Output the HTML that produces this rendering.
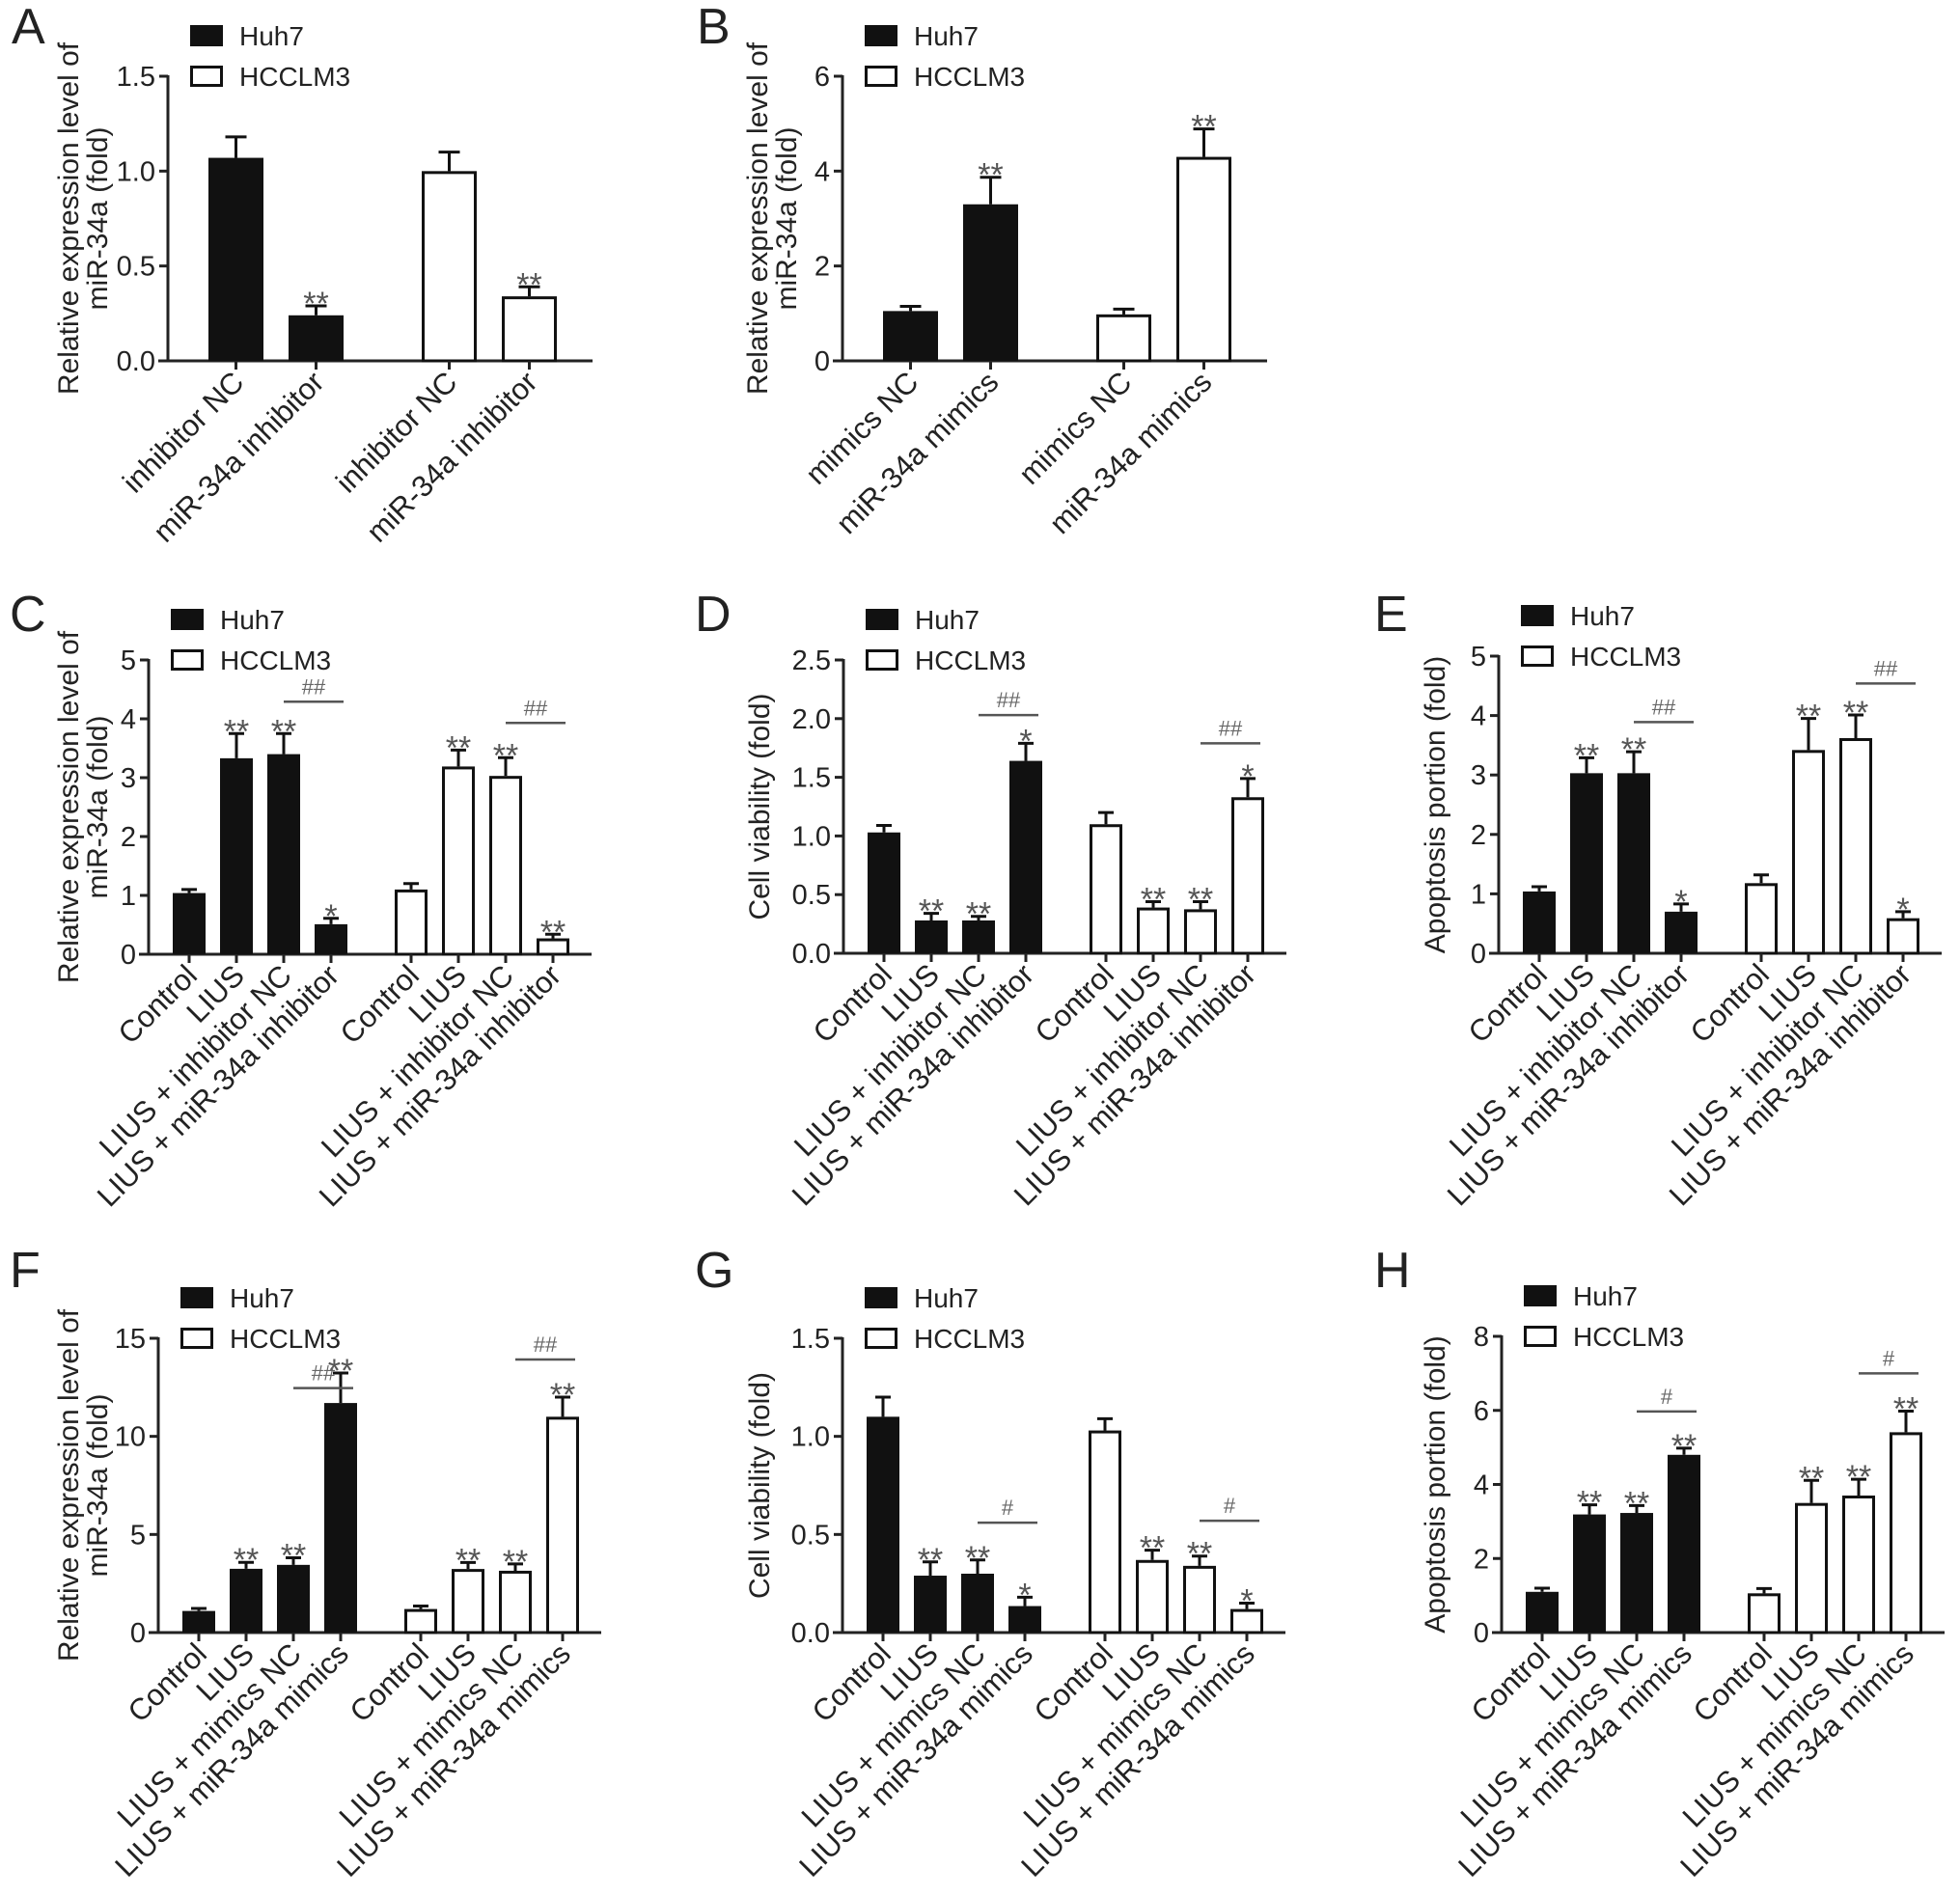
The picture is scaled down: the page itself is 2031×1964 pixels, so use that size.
<!DOCTYPE html>
<html><head><meta charset="utf-8">
<style>
html,body{margin:0;padding:0;background:#fff;}
svg{display:block;font-family:"Liberation Sans",Arial,sans-serif;}
</style></head>
<body>
<svg id="fig" width="2031" height="1964" viewBox="0 0 2031 1964" xmlns="http://www.w3.org/2000/svg"></svg>
<script>
// ---- Data ----
const catsA = ["inhibitor NC","miR-34a inhibitor","inhibitor NC","miR-34a inhibitor"];
const valsA = [1.07, 0.24, 1.00, 0.34];
const errsA = [1.18, 0.29, 1.10, 0.39];
const starsA = ["", "**", "", "**"];
const ticksA = ["0.0","0.5","1.0","1.5"];

const catsB = ["mimics NC","miR-34a mimics","mimics NC","miR-34a mimics"];
const valsB = [1.05, 3.30, 0.98, 4.30];
const errsB = [1.15, 3.87, 1.09, 4.89];
const starsB = ["", "**", "", "**"];
const ticksB = ["0","2","4","6"];

const catsInh = ["Control","LIUS","LIUS + inhibitor NC","LIUS + miR-34a inhibitor","Control","LIUS","LIUS + inhibitor NC","LIUS + miR-34a inhibitor"];
const catsMim = ["Control","LIUS","LIUS + mimics NC","LIUS + miR-34a mimics","Control","LIUS","LIUS + mimics NC","LIUS + miR-34a mimics"];

const valsC = [1.04, 3.33, 3.40, 0.51, 1.10, 3.19, 3.03, 0.27];
const errsC = [1.10, 3.75, 3.75, 0.61, 1.20, 3.47, 3.34, 0.34];
const starsC = ["", "**", "**", "*", "", "**", "**", "**"];
const sigC = [4.29, 3.93];
const ticksC = ["0","1","2","3","4","5"];

const valsD = [1.03, 0.28, 0.28, 1.64, 1.10, 0.39, 0.375, 1.33];
const errsD = [1.09, 0.34, 0.315, 1.79, 1.20, 0.44, 0.44, 1.49];
const starsD = ["", "**", "**", "*", "", "**", "**", "*"];
const sigD = [2.03, 1.79];
const ticksD = ["0.0","0.5","1.0","1.5","2.0","2.5"];

const valsE = [1.04, 3.03, 3.03, 0.70, 1.18, 3.42, 3.62, 0.59];
const errsE = [1.12, 3.29, 3.39, 0.83, 1.32, 3.95, 4.01, 0.70];
const starsE = ["", "**", "**", "*", "", "**", "**", "*"];
const sigE = [3.89, 4.54];
const ticksE = ["0","1","2","3","4","5"];

const valsF = [1.10, 3.25, 3.45, 11.70, 1.20, 3.24, 3.15, 11.00];
const errsF = [1.23, 3.58, 3.81, 13.23, 1.35, 3.57, 3.50, 12.00];
const starsF = ["", "**", "**", "**", "", "**", "**", "**"];
const sigF = [12.46, 13.92];
const ticksF = ["0","5","10","15"];

const valsG = [1.10, 0.29, 0.30, 0.135, 1.03, 0.37, 0.34, 0.12];
const errsG = [1.20, 0.36, 0.37, 0.18, 1.09, 0.42, 0.39, 0.15];
const starsG = ["", "**", "**", "*", "", "**", "**", "*"];
const sigG = [0.56, 0.57];
const ticksG = ["0.0","0.5","1.0","1.5"];

const valsH = [1.10, 3.19, 3.23, 4.80, 1.06, 3.50, 3.70, 5.41];
const errsH = [1.20, 3.45, 3.43, 4.98, 1.19, 4.11, 4.14, 5.98];
const starsH = ["", "**", "**", "**", "", "**", "**", "**"];
const sigH = [5.97, 7.00];
const ticksH = ["0","2","4","6","8"];

// ---- Drawing ----
const NS = "http://www.w3.org/2000/svg";
const svg = document.getElementById("fig");
function mk(tag, attrs, parent, text){
  const e = document.createElementNS(NS, tag);
  for (const k in attrs) e.setAttribute(k, attrs[k]);
  if (text !== undefined) e.textContent = text;
  (parent || svg).appendChild(e);
  return e;
}

function drawPanel(L, cats, vals, errs, stars, sig, sigText, ticks){
  const g = mk("g", {});
  
  
  const x0 = L.x0, yT = L.yTop, yB = L.yBot, maxV = L.max;
  const yS = v => yB - v / maxV * (yB - yT);
  const n = cats.length / 2;
  const four = cats.length === 4;
  const w = four ? 57 : 34;
  const axLen = four ? 440 : 459;
  const barX = i => four ? x0 + [42,125,263,346][i] : x0 + (i < 4 ? 25 + 49*i : 255 + 49*(i-4));

  const lt = mk("text", {x: L.lx, y: L.ly, "font-size": 52, fill: "#222"}, g, L.letter);
  
  

  const cy = (yT + yB) / 2;
  L.title.forEach((t, k) => {
    const tx = L.titleX[k];
    const te = mk("text", {x: tx + 11, y: cy, "font-size": 30, fill: "#222", "text-anchor": "middle",
      transform: `rotate(-90 ${tx + 11} ${cy})`}, g, t);
    
    
  });

  const ya = mk("line", {x1: x0, y1: yT - 1, x2: x0, y2: yB + 1.5, stroke: "#222", "stroke-width": 3}, g);
  
  
  const xa = mk("line", {x1: x0 - 10, y1: yB, x2: x0 + axLen, y2: yB, stroke: "#222", "stroke-width": 3}, g);
  
  

  ticks.forEach((t, k) => {
    const v = maxV * k / (ticks.length - 1);
    const yy = yS(v);
    const tk = mk("line", {x1: x0 - 9, y1: yy, x2: x0, y2: yy, stroke: "#222", "stroke-width": 3}, g);
    
    
    const tl = mk("text", {x: x0 - 13, y: yy + 10, "font-size": 29, fill: "#222", "text-anchor": "end"}, g, t);
    
    
  });

  cats.forEach((c, i) => {
    const bx = barX(i), cx = bx + w / 2;
    const top = yS(vals[i]), et = yS(errs[i]);
    const black = i < n;
    const cap = four ? 22 : 16;
    const eb = mk("path", {d: `M${cx} ${top} V${et} M${cx - cap/2} ${et} H${cx + cap/2}`, stroke: "#111", "stroke-width": 3, fill: "none"}, g);
    
    
    let r;
    if (black) {
      r = mk("rect", {x: bx, y: top, width: w, height: yB - top, fill: "#111"}, g);
    } else {
      r = mk("rect", {x: bx + 1.5, y: top + 1.5, width: w - 3, height: Math.max(0, yB - top - 1.5), fill: "#fff", stroke: "#111", "stroke-width": 3}, g);
    }
    
    
    const xt = mk("line", {x1: cx, y1: yB, x2: cx, y2: yB + 9, stroke: "#222", "stroke-width": 3}, g);
    
    
    const lx = cx + 10, ly = yB + 24;
    const xl = mk("text", {x: lx, y: ly, "font-size": 31, fill: "#222", "text-anchor": "end",
      transform: `rotate(-45 ${lx} ${ly})`}, g, c);
    
    
    if (stars[i]) {
      const st = mk("text", {x: cx, y: et + 9, "font-size": 34, fill: "#555", "text-anchor": "middle"}, g, stars[i]);
      
      
    }
  });

  if (sig) {
    sig.forEach((sv, k) => {
      const b3 = barX(k * n + 2), b4 = barX(k * n + 3);
      const x1 = b3 + w / 2, x2 = b4 + w - 4, yy = yS(sv);
      const sl = mk("line", {x1: x1, y1: yy, x2: x2, y2: yy, stroke: "#555", "stroke-width": 2.5}, g);
      
      
      const sx = mk("text", {x: (x1 + x2) / 2, y: yy - 8, "font-size": 22, fill: "#666", "text-anchor": "middle"}, g, sigText);
      
      
    });
  }

  const bx = x0 + 23, by2 = yT - 11, by1 = by2 - 42;
  const lg = mk("g", {}, g);
  
  
  const s1 = mk("rect", {x: bx, y: by1, width: 34, height: 22, fill: "#111"}, lg);
  
  
  const t1 = mk("text", {x: bx + 51, y: by1 + 21, "font-size": 28, fill: "#222"}, lg, "Huh7");
  
  
  const s2 = mk("rect", {x: bx + 1.5, y: by2 + 1.5, width: 31, height: 19, fill: "#fff", stroke: "#111", "stroke-width": 3}, lg);
  
  
  const t2 = mk("text", {x: bx + 51, y: by2 + 21, "font-size": 28, fill: "#222"}, lg, "HCCLM3");
  
  
}

const T2 = ["Relative expression level of", "miR-34a (fold)"];
drawPanel({letter:"A", lx:12, ly:45, x0:174, yTop:79, yBot:374, max:1.5, title:T2, titleX:[70,100]}, catsA, valsA, errsA, starsA, null, "", ticksA);
drawPanel({letter:"B", lx:722, ly:45, x0:873, yTop:79, yBot:374, max:6, title:T2, titleX:[784,814]}, catsB, valsB, errsB, starsB, null, "", ticksB);
drawPanel({letter:"C", lx:10, ly:654, x0:154, yTop:684, yBot:989, max:5, title:T2, titleX:[70,100]}, catsInh, valsC, errsC, starsC, sigC, "##", ticksC);
drawPanel({letter:"D", lx:720, ly:654, x0:874, yTop:684, yBot:988, max:2.5, title:["Cell viability (fold)"], titleX:[786]}, catsInh, valsD, errsD, starsD, sigD, "##", ticksD);
drawPanel({letter:"E", lx:1424, ly:654, x0:1553, yTop:680, yBot:988, max:5, title:["Apoptosis portion (fold)"], titleX:[1486]}, catsInh, valsE, errsE, starsE, sigE, "##", ticksE);
drawPanel({letter:"F", lx:10, ly:1334, x0:164, yTop:1387, yBot:1692, max:15, title:T2, titleX:[70,100]}, catsMim, valsF, errsF, starsF, sigF, "##", ticksF);
drawPanel({letter:"G", lx:720, ly:1334, x0:873, yTop:1387, yBot:1692, max:1.5, title:["Cell viability (fold)"], titleX:[786]}, catsMim, valsG, errsG, starsG, sigG, "#", ticksG);
drawPanel({letter:"H", lx:1424, ly:1334, x0:1556, yTop:1385, yBot:1692, max:8, title:["Apoptosis portion (fold)"], titleX:[1486]}, catsMim, valsH, errsH, starsH, sigH, "#", ticksH);
</script>
</body></html>
